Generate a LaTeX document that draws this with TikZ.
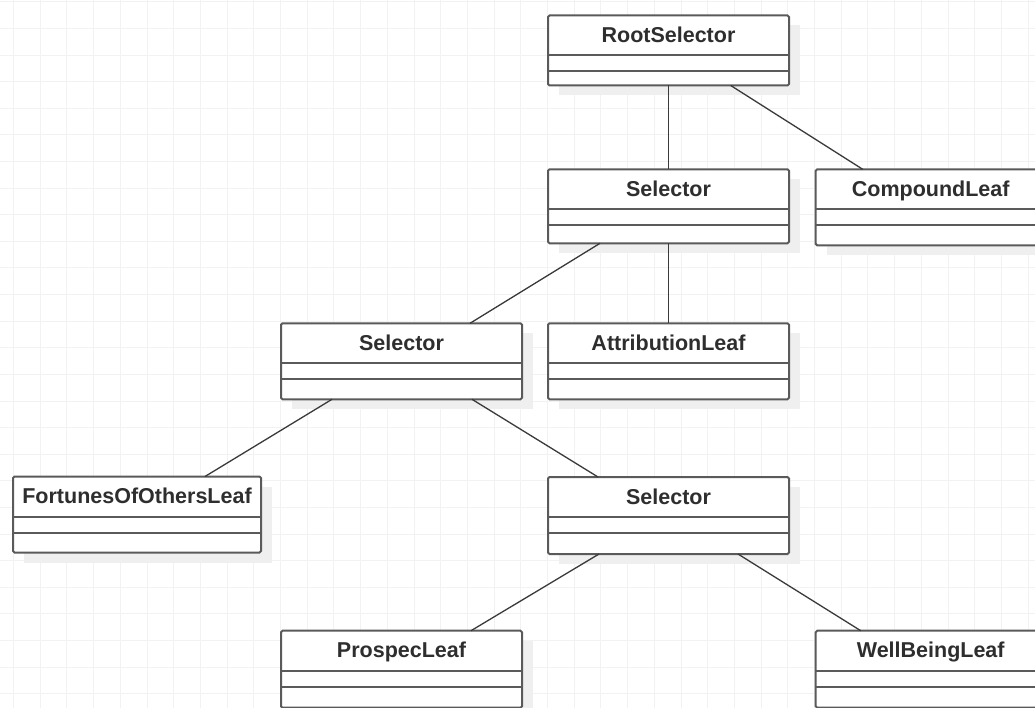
\documentclass[tikz,border=0pt]{standalone}
\usepackage{fontspec}
\setmainfont{Liberation Sans}
\usetikzlibrary{calc}
\definecolor{gridc}{HTML}{F2F2F2}
\definecolor{boxc}{HTML}{5A5A5A}
\definecolor{linec}{HTML}{3A3A3A}
\definecolor{textc}{HTML}{2E2E2E}
\definecolor{shadowc}{HTML}{EFEFEF}
\newcommand\umlbox[6]{% name, left, top, width, height, title
  \fill[shadowc] (#2+11,#3+10) rectangle ++(#4,#5);
  \node[box, minimum width=#4pt, minimum height=#5pt] (#1) at (#2,#3) {};
  \draw[sep] (#2,#3+40) -- ++(#4,0);
  \draw[sep] (#2,#3+56) -- ++(#4,0);
  \node[title] (#1-t) at ($(#1.north west)+(#4/2,27)$) {#6};
}
\begin{document}
\begin{tikzpicture}[x=1pt,y=-1pt,
  box/.style={draw=boxc, line width=2pt, fill=white, rounded corners=1.5pt,
    anchor=north west, inner sep=0pt, outer sep=0pt},
  sep/.style={draw=boxc, line width=2pt},
  title/.style={font=\fontsize{21.5}{24}\selectfont\bfseries, text=textc, anchor=base},
  link/.style={draw=linec, line width=1.3pt}]
\useasboundingbox (0,0) rectangle (1035,708);
\clip (0,0) rectangle (1035,708);
\fill[white] (0,0) rectangle (1035,708);
% grid
\foreach \i in {0,...,38} \draw[gridc, line width=1pt] (13.5+26.7*\i,0) -- (13.5+26.7*\i,708);
\foreach \j in {0,...,26} \draw[gridc, line width=1pt] (0,2+26.6*\j) -- (1035,2+26.6*\j);
% boxes
\umlbox{root}{548}{15.5}{241}{70}{RootSelector}
\umlbox{selA}{548}{169.3}{241}{74}{Selector}
\umlbox{comp}{815.7}{169.3}{230}{76}{CompoundLeaf}
\umlbox{selB}{281}{323.3}{241}{76}{Selector}
\umlbox{attr}{548}{323.3}{241}{76}{AttributionLeaf}
\umlbox{fort}{13}{476.5}{248}{76}{FortunesOfOthersLeaf}
\umlbox{selC}{548}{477}{241}{77}{Selector}
\umlbox{prosp}{281}{630.7}{241}{77}{ProspecLeaf}
\umlbox{well}{815.7}{630.7}{230}{77}{WellBeingLeaf}
% connectors
\draw[link] (root.south) -- (root.south |- selA.north);
\draw[link] ($(root.south west)+(182.7,0)$) -- ($(comp.north west)+(47,0)$);
\draw[link] ($(selA.south west)+(52,0)$) -- ($(selB.north west)+(189,0)$);
\draw[link] (selA.south) -- (selA.south |- attr.north);
\draw[link] ($(selB.south west)+(51,0)$) -- ($(fort.north west)+(192,0)$);
\draw[link] ($(selB.south west)+(191,0)$) -- ($(selC.north west)+(50,0)$);
\draw[link] ($(selC.south west)+(51,0)$) -- ($(prosp.north west)+(190,0)$);
\draw[link] ($(selC.south west)+(190,0)$) -- ($(well.north west)+(45,0)$);
\end{tikzpicture}
\end{document}
